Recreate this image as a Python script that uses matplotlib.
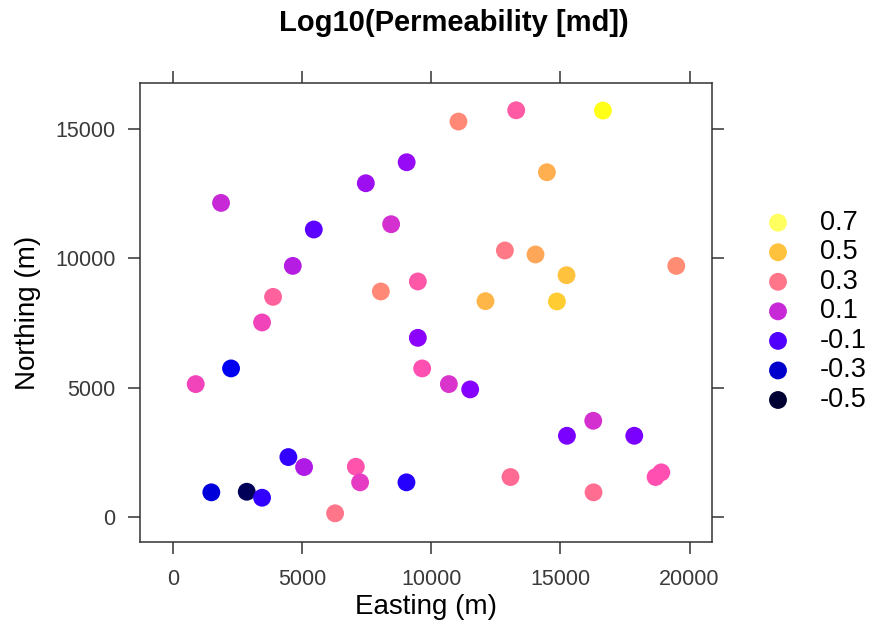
import numpy as np
import matplotlib
matplotlib.use("Agg")
import matplotlib.pyplot as plt

plt.rcParams['font.family'] = ['Liberation Sans', 'DejaVu Sans']

# sample locations (m) and log10 permeability
easting = [1870, 5459, 7472, 9052, 8451, 4646, 3883, 8053, 9485, 3457,
           9485, 2257, 890, 9652, 4475, 5083, 7085, 7251, 9044, 1494,
           2865, 3457, 6283, 11057, 13291, 16647, 14479, 12853, 14038, 19485,
           15238, 12102, 14866, 10685, 11510, 16272, 15254, 17859, 13070, 16283,
           18684, 18905]
northing = [12153, 11123, 12915, 13728, 11328, 9713, 8513, 8722, 9110, 7522,
            6926, 5741, 5134, 5741, 2307, 1920, 1932, 1328, 1328, 941,
            964, 732, 128, 15304, 15741, 15730, 13341, 10310, 10155, 9713,
            9353, 8347, 8335, 5134, 4928, 3713, 3132, 3132, 1533, 941,
            1533, 1715]
logperm = [0.10, -0.08, 0.03, 0.02, 0.12, 0.07, 0.25, 0.35, 0.22, 0.17,
           0.00, -0.25, 0.17, 0.20, -0.15, 0.06, 0.21, 0.15, -0.17, -0.28,
           -0.45, -0.15, 0.30, 0.35, 0.23, 0.67, 0.45, 0.31, 0.43, 0.36,
           0.50, 0.47, 0.53, 0.13, -0.01, 0.12, -0.03, -0.03, 0.27, 0.28,
           0.20, 0.20]

legend_vals = [0.7, 0.5, 0.3, 0.1, -0.1, -0.3, -0.5]
legend_labels = ['0.7', '0.5', '0.3', '0.1', '-0.1', '-0.3', '-0.5']
vmin, vmax = -0.5, 0.7


def bpy(v):
    # sp::bpy.colors style palette, tails cut by 0.1
    v = np.clip((np.asarray(v, float) - vmin) / (vmax - vmin), 0, 1)
    i = 0.05 + 0.9 * v
    r = np.where(i < .25, 0, np.where(i < .57, i / .32 - .78125, 1))
    g = np.where(i < .42, 0, np.where(i < .92, 2 * i - .84, 1))
    b = np.where(i < .25, 4 * i, np.where(i < .42, 1,
                 np.where(i < .92, -2 * i + 1.84, i / .08 - 11.5)))
    return np.clip(np.column_stack([r, g, b]), 0, 1)


W, H = 876, 636
fig = plt.figure(figsize=(W / 100, H / 100), dpi=100)

# main panel (pixel box 140..712 x 83..542)
ax = fig.add_axes([140 / W, 1 - 542 / H, 572 / W, 459 / H])
ax.scatter(easting, northing, c=bpy(logperm), s=165, linewidths=0, zorder=3)
ax.set_xlim(-1266, 20867)
ax.set_ylim(-983, 16798)
ax.set_xticks([0, 5000, 10000, 15000, 20000])
ax.set_yticks([0, 5000, 10000, 15000])
ax.tick_params(direction='out', length=8.5, width=1.1, color='#333333',
               top=True, right=True, labeltop=False, labelright=False,
               labelsize=15.5, labelcolor='#3a3a3a', pad=9)
ax.tick_params(axis='x', pad=11)
for sp in ax.spines.values():
    sp.set_color('#333333')
    sp.set_linewidth(1.1)

ax.set_xlabel('Easting (m)', fontsize=20, va='center')
ax.xaxis.set_label_coords(0.5, -0.1415)
ax.set_ylabel('Northing (m)', fontsize=20, va='center')
ax.yaxis.set_label_coords(-0.195, 0.5)

fig.text(454 / W, 1 - 23 / H, 'Log10(Permeability [md])', fontsize=21,
         fontweight='bold', ha='center', va='center')

# key
lax = fig.add_axes([760 / W, 1 - 420 / H, 116 / W, 220 / H])
lax.set_xlim(0, 116)
lax.set_ylim(-0.6354, 0.8536)
lax.axis('off')
lax.scatter([18] * len(legend_vals), legend_vals, c=bpy(legend_vals),
            s=165, linewidths=0)
for v, lab in zip(legend_vals, legend_labels):
    lax.text(60, v, lab, fontsize=19.5, ha='left', va='center')

fig.savefig('out.png', dpi=100)
